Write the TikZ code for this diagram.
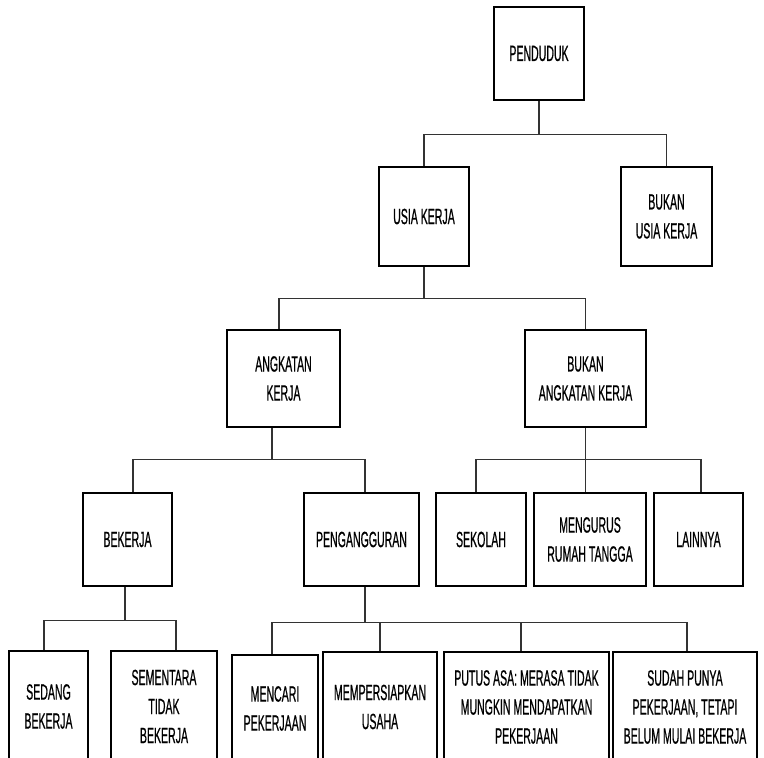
\documentclass[tikz,border=0pt]{standalone}
\usepackage{fontspec}
\setmainfont{Liberation Sans}[FakeStretch=0.48,FakeBold=0.6]
\tikzset{
  kotak/.style={
    draw=black,
    line width=1.3pt,
    fill=white,
    align=center,
    inner sep=2pt,
    font=\fontsize{11}{14.5}\selectfont
  },
  garis/.style={
    line width=.7pt,
    draw=black!80
  }
}
\begin{document}
\begin{tikzpicture}[x=.5pt,y=-.5pt]
\useasboundingbox (0,0) rectangle (764,758);
\clip (0,0) rectangle (764,758);
% tingkat 1 dan 2
\node[kotak,minimum width=45pt,minimum height=46.5pt] (penduduk) at (539,53.5) {PENDUDUK};
\node[kotak,minimum width=45pt,minimum height=49.5pt] (usia) at (424,216.5) {USIA KERJA};
\node[kotak,minimum width=45.5pt,minimum height=49.5pt] (bukanusia) at (666.5,216.5) {BUKAN\\USIA KERJA};
% tingkat 3
\node[kotak,minimum width=56.5pt,minimum height=48.5pt] (angkatan) at (283.5,378.5) {ANGKATAN\\KERJA};
\node[kotak,minimum width=60.5pt,minimum height=48.5pt] (bukanak) at (585.5,378.5) {BUKAN\\ANGKATAN KERJA};
% tingkat 4
\node[kotak,minimum width=44.5pt,minimum height=46.5pt] (bekerja) at (127.5,539.5) {BEKERJA};
\node[kotak,minimum width=57.5pt,minimum height=46.5pt] (pengangguran) at (361.5,539.5) {PENGANGGURAN};
\node[kotak,minimum width=45pt,minimum height=46.5pt] (sekolah) at (481,539.5) {SEKOLAH};
\node[kotak,minimum width=56pt,minimum height=46.5pt] (mengurus) at (590,539.5) {MENGURUS\\RUMAH TANGGA};
\node[kotak,minimum width=44.5pt,minimum height=46.5pt] (lainnya) at (698.5,539.5) {LAINNYA};
% tingkat 5
\node[kotak,minimum width=39.5pt,minimum height=55.5pt] (sedang) at (48.5,706.5) {SEDANG\\BEKERJA};
\node[kotak,minimum width=53pt,minimum height=55.5pt] (sementara) at (164,706.5) {SEMENTARA\\TIDAK\\BEKERJA};
\node[kotak,minimum width=43pt,minimum height=53.5pt] (mencari) at (275,708.5) {MENCARI\\PEKERJAAN};
\node[kotak,minimum width=57pt,minimum height=55pt] (persiapan) at (380,707) {MEMPERSIAPKAN\\USAHA};
\node[kotak,minimum width=82.5pt,minimum height=55pt] (putusasa) at (526.5,707) {PUTUS ASA: MERASA TIDAK\\MUNGKIN MENDAPATKAN\\PEKERJAAN};
\node[kotak,minimum width=72pt,minimum height=55pt] (sudahpunya) at (685,707) {SUDAH PUNYA\\PEKERJAAN, TETAPI\\BELUM MULAI BEKERJA};
% garis penghubung
\draw[garis] (penduduk.south) -- ++(0,33) coordinate (j1);
\draw[garis] (usia.north) |- (j1) -| (bukanusia.north);
\draw[garis] (usia.south) -- ++(0,31) coordinate (j2);
\draw[garis] ([xshift=-2.25pt]angkatan.north) |- (j2) -| (bukanak.north);
\draw[garis] ([xshift=-5.75pt]angkatan.south) -- ++(0,31) coordinate (j3);
\draw[garis] ([xshift=2.75pt]bekerja.north) |- (j3) -| ([xshift=1.75pt]pengangguran.north);
\draw[garis] (bukanak.south) -- ++(0,31) coordinate (j3b);
\draw[garis] ([xshift=-2.5pt]sekolah.north) |- (j3b) -| ([xshift=1.25pt]lainnya.north);
\draw[garis] (j3b) -- (j3b |- mengurus.north);
\draw[garis] ([xshift=-1.25pt]bekerja.south) -- ++(0,33) coordinate (j4);
\draw[garis] ([xshift=-2.25pt]sedang.north) |- (j4) -| ([xshift=6pt]sementara.north);
\draw[garis] ([xshift=1.75pt]pengangguran.south) -- ++(0,35) coordinate (j4b);
\draw[garis] ([xshift=-1.5pt]mencari.north) |- (j4b) -| ([xshift=1pt]sudahpunya.north);
\draw[garis] (persiapan.north) -- (persiapan.north |- j4b);
\draw[garis] ([xshift=-2.75pt]putusasa.north) -- ([xshift=-2.75pt]putusasa.north |- j4b);
\end{tikzpicture}
\end{document}
